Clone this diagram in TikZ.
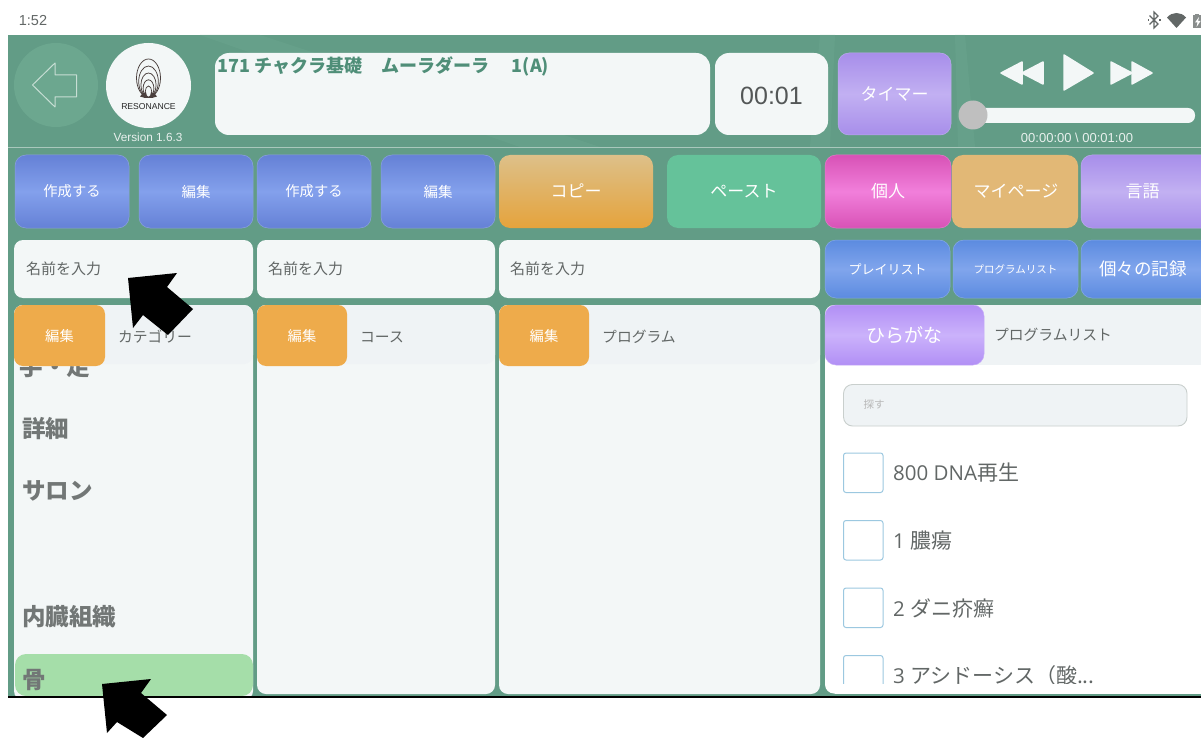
\documentclass[tikz,border=0pt]{standalone}
\usepackage{fontspec}
\setmainfont{Liberation Sans}
\newfontfamily\cjk{Noto Sans CJK JP}
\newfontfamily\latn{Open Sans}
\definecolor{bg}{HTML}{629C86}
\definecolor{bgl}{HTML}{6CA78F}
\definecolor{panel}{HTML}{F3F7F7}
\definecolor{head}{HTML}{EFF3F5}
\definecolor{ink}{HTML}{626766}
\definecolor{inkl}{HTML}{727776}
\definecolor{tealtxt}{HTML}{4F8E78}
\definecolor{blueA}{HTML}{6581D6}
\definecolor{blueB}{HTML}{83A0EC}
\definecolor{blue2A}{HTML}{5C8BE0}
\definecolor{blue2B}{HTML}{80A5EC}
\definecolor{orgA}{HTML}{DDC089}
\definecolor{orgB}{HTML}{E5A33C}
\definecolor{grn}{HTML}{65C29A}
\definecolor{pnkA}{HTML}{D852B6}
\definecolor{pnkB}{HTML}{F17FDA}
\definecolor{mypg}{HTML}{E2B876}
\definecolor{purA}{HTML}{A78EEA}
\definecolor{purB}{HTML}{C2B0F2}
\definecolor{pur2A}{HTML}{B18FF5}
\definecolor{pur2B}{HTML}{CBB2FB}
\definecolor{edit}{HTML}{EEAB4B}
\definecolor{sel}{HTML}{A5DEA9}
\definecolor{chk}{HTML}{9CC8E0}
\definecolor{lgd}{HTML}{4A3F3D}
\tikzset{
  x=1pt,y=-1pt,
  lab/.style={inner sep=0pt,text=ink,font=\cjk},
  listlab/.style={inner sep=0pt,text=inkl,anchor=west,font=\cjk\bfseries\fontsize{23.5}{24}\selectfont},
  wht/.style={inner sep=0pt,text=white},
  corn/.style={rounded corners=11pt},
  chkbox/.style={draw=chk,line width=1pt,fill=white,rounded corners=2.5pt},
  media/.style={fill=panel,draw=panel,line width=1.5pt,line join=round},
  pointer/.style={fill=black,draw=none}
}
% name x1 y1 x2 y2 top mid size text
\newcommand{\gbtn}[9]{%
  \path[corn,top color=#6,bottom color=#6,middle color=#7] (#2,#3) rectangle (#4,#5);
  \draw[corn,draw=#6!75!white,line width=.5pt] (#2,#3) rectangle (#4,#5);
  \node[wht,font=\cjk\fontsize{#8}{#8}\selectfont] (#1) at ({(#2+#4)/2},{(#3+#5)/2}) {#9};
}
\begin{document}
\begin{tikzpicture}
\useasboundingbox (0,0) rectangle (1201,738);
\fill[white] (0,0) rectangle (1201,738);
% status bar
\node[inner sep=0pt,text=ink,font=\fontsize{14.5}{15}\selectfont] (clock) at (33,20.5) {1:52};
\draw[ink,line width=1.1pt] (1149.5,15.5)--(1158,24)--(1154,28)--(1154,12)--(1158,16)--(1149.5,24.5);
\fill[ink] (1147.5,19.3) rectangle (1149,20.8);
\fill[ink] (1159,19.3) rectangle (1160.5,20.8);
\fill[ink] (1167,17.5) .. controls (1172,11.5) and (1181,11.5) .. (1186,17.5) -- (1176.5,28) -- cycle;
\fill[ink!75!white] (1193,15.5) rectangle (1201,28);
\fill[ink!75!white] (1195,14) rectangle (1199,15.5);
\fill[white] (1199,17) -- (1195,22.5) -- (1197.5,22.5) -- (1196.5,27) -- (1200.5,21) -- (1198,21) -- cycle;
% main panel
\fill[bg] (8,35) rectangle (1201,696);
\fill[bgl,opacity=.45] (200,35) -- (260,35) -- (600,147) -- (520,147) -- cycle;
\fill[bgl,opacity=.45] (820,35) -- (835,35) -- (830,147) -- (810,147) -- cycle;
\fill[bgl,opacity=.45] (955,35) -- (965,35) -- (975,147) -- (958,147) -- cycle;
\draw[white!45!bg,line width=.7pt] (8,147) -- (1201,147);
% back button
\fill[bgl] (56,85) circle (42);
\draw[white!62!bgl,line width=1pt,line join=round] (32.5,85) -- (55,63) -- (55,75) -- (76.5,75) -- (76.5,97) -- (55,97) -- (55,107) -- cycle;
% logo
\fill[panel] (148.5,85.5) circle (42.5);
\foreach \rx/\ry/\c in {12/19/78,9.8/15.5/81.5,7.6/12/85,5.4/8.6/88.4,3.2/5.5/91.5}
  \draw[lgd,line width=.75pt] (148.5,\c) ellipse (\rx pt and \ry pt);
\fill[lgd] (140,96.5) .. controls (144,90) and (153,90) .. (157,96.5) -- (152,98) -- (145,98) -- cycle;
\fill[panel] (148.5,92) ellipse (2.4pt and 4.6pt);
\node[inner sep=0pt,text=black!85,font=\fontsize{8.6}{9}\selectfont] (logotext) at (148.5,106.5) {RESONANCE};
\node[inner sep=0pt,text=white!85!bg,font=\fontsize{11.8}{12}\selectfont] (version) at (148,137.5) {Version 1.6.3};
% title
\fill[panel,rounded corners=14pt] (215,53) rectangle (710,135);
\node[anchor=west,inner sep=0pt,text=tealtxt,font=\cjk\bfseries\fontsize{18}{18}\selectfont] (title) at (217.5,66.5) {171 チャクラ基礎\hspace{1.05em}ムーラダーラ\hspace{1.25em}1(A)};
\fill[panel,rounded corners=14pt] (715,53) rectangle (828,135);
\node[inner sep=0pt,text=ink!85!black,font=\fontsize{25}{25}\selectfont] (clk) at (771.5,96) {00:01};
\gbtn{timer}{838}{53}{951}{135}{purA}{purB}{17}{タイマー}
% media controls
\draw[media] (1001,73) -- (1022,62) -- (1022,84) -- cycle;
\draw[media] (1022,73) -- (1043,62) -- (1043,84) -- cycle;
\draw[media] (1064,55) -- (1093,73) -- (1064,90) -- cycle;
\draw[media] (1111,62) -- (1132,73) -- (1111,84) -- cycle;
\draw[media] (1132,62) -- (1152,73) -- (1132,84) -- cycle;
\fill[panel,rounded corners=7pt] (972,108) rectangle (1195,123);
\fill[black!25] (973,115) circle (14.5);
\node[inner sep=0pt,text=white!85!bg,font=\fontsize{13}{13}\selectfont] (elapsed) at (1077,138) {00:00:00 \textbackslash{} 00:01:00};
% button row
\gbtn{b1}{15}{155}{129}{228}{blueA}{blueB}{14.3}{作成する}
\gbtn{b2}{139}{155}{253}{228}{blueA}{blueB}{14.5}{編集}
\gbtn{b3}{257}{155}{371}{228}{blueA}{blueB}{14.3}{作成する}
\gbtn{b4}{381}{155}{495}{228}{blueA}{blueB}{14.5}{編集}
\path[corn,top color=orgA,bottom color=orgB] (499,155) rectangle (653,228);
\node[wht,font=\cjk\fontsize{17}{17}\selectfont] (copy) at (576,191) {コピー};
\path[corn,fill=grn] (667,155) rectangle (821,228);
\node[wht,font=\cjk\fontsize{17}{17}\selectfont] (paste) at (744,191) {ペースト};
\gbtn{b5}{825}{155}{951}{228}{pnkA}{pnkB}{17}{個人}
\path[corn,fill=mypg] (952,155) rectangle (1078,228);
\node[wht,font=\cjk\fontsize{17}{17}\selectfont] (mypage) at (1016,191) {マイページ};
\gbtn{b6}{1081}{155}{1215}{228}{purA}{purB}{17}{\hspace{-11pt}言語}
% inputs
\foreach \a/\b/\t/\n in {14/253/26/i1,257/495/268/i2,499/820/510/i3}{
  \fill[panel,rounded corners=9pt] (\a,240) rectangle (\b,298);
  \node[lab,anchor=west,font=\cjk\fontsize{15}{15}\selectfont] (\n) at (\t,269) {名前を入力};
}
% second row, right
\gbtn{p1}{825}{240}{950}{298}{blue2A}{blue2B}{13}{プレイリスト}
\gbtn{p2}{953}{240}{1078}{298}{blue2A}{blue2B}{10.5}{プログラムリスト}
\gbtn{p3}{1081}{240}{1215}{298}{blue2A}{blue2B}{17.5}{\hspace{-10pt}個々の記録}
% column panels
\fill[panel,rounded corners=9pt] (14,305) rectangle (253,700);
\fill[panel,rounded corners=9pt] (257,305) rectangle (495,694);
\fill[panel,rounded corners=9pt] (499,305) rectangle (820,694);
\fill[white,rounded corners=9pt] (825,305) rectangle (1215,693.5);
% list
\node[listlab,anchor=center] (l0) at (55,367) {手・足};
\node[listlab] (l1) at (22,429) {詳細};
\node[listlab] (l2) at (22,491) {サロン};
\node[listlab] (l3) at (22,617) {内臓組織};
\path[fill=sel,rounded corners=11pt] (15,696) -- (15,654) -- (253,654) -- (253,696) -- cycle;
\node[listlab] (l4) at (22,680) {骨};
\fill[bg] (8,696) rectangle (14,700);
\fill[white] (8,698) rectangle (300,704);
\fill[black] (8,695.8) rectangle (1201,698);
\fill[head,rounded corners=9pt] (14,364) -- (14,305) -- (253,305) -- (253,364) -- cycle;
\fill[head,rounded corners=9pt] (257,364) -- (257,305) -- (495,305) -- (495,364) -- cycle;
\fill[head,rounded corners=9pt] (499,364) -- (499,305) -- (820,305) -- (820,364) -- cycle;
\fill[head] (835,305) rectangle (1201,365);
% orange edit
\foreach \a/\b/\n in {14/105/e1,257/347/e2,499/589/e3}{
  \fill[edit,rounded corners=9pt] (\a,305) rectangle (\b,366);
  \node[wht,font=\cjk\fontsize{14.3}{14}\selectfont] (\n) at ({(\a+\b)/2},336) {編集};
}
\node[lab,font=\cjk\fontsize{14.8}{16}\selectfont] (h1) at (155,337) {カテゴリー};
\node[lab,font=\cjk\fontsize{14.8}{16}\selectfont] (h2) at (382,337) {コース};
\node[lab,font=\cjk\fontsize{14.8}{16}\selectfont] (h3) at (639,337) {プログラム};
% right panel
\gbtn{hira}{825}{305}{984}{365}{pur2A}{pur2B}{19}{ひらがな}
\node[lab,font=\cjk\fontsize{14.8}{16}\selectfont] (h4) at (1053,335) {プログラムリスト};
\draw[fill=head,draw=bg!40!black!25!white,line width=.9pt,rounded corners=9pt] (843.5,384.5) rectangle (1187,426);
\node[inner sep=0pt,text=black!28,font=\cjk\fontsize{10.5}{11}\selectfont] (search) at (874,405) {探す};
\draw[chkbox] (843.5,453) rectangle (883,492.5);
\draw[chkbox] (843.5,520.5) rectangle (883,560);
\draw[chkbox] (843.5,588) rectangle (883,627.5);
\draw[chkbox] (843.5,655.5) rectangle (883,692);
\node[lab,anchor=west,font=\cjk\fontsize{21}{21}\selectfont] (r1) at (893,473) {{\latn\fontsize{20.5}{21}\selectfont 800 DNA}再生};
\node[lab,anchor=west,font=\cjk\fontsize{21}{21}\selectfont] (r2) at (893,541) {{\latn\fontsize{20.5}{21}\selectfont 1 }膿瘍};
\node[lab,anchor=west,font=\cjk\fontsize{21}{21}\selectfont] (r3) at (893,608) {{\latn\fontsize{20.5}{21}\selectfont 2 }ダニ疥癬};
\node[lab,anchor=west,font=\cjk\fontsize{21}{21}\selectfont] (r4) at (893,676) {{\latn\fontsize{20.5}{21}\selectfont 3 }アシドーシス（酸...};
\fill[white] (835,684) rectangle (1201,693.5);
% pointers
\fill[pointer] (128,278) -- (177,273) -- (167,287) -- (193,309) -- (168,335) -- (143,315) -- (133,328) -- cycle;
\fill[pointer] (102,684) -- (151,679) -- (141,693) -- (167,715) -- (143,738) -- (117,722) -- (107,733) -- cycle;
\end{tikzpicture}
\end{document}
